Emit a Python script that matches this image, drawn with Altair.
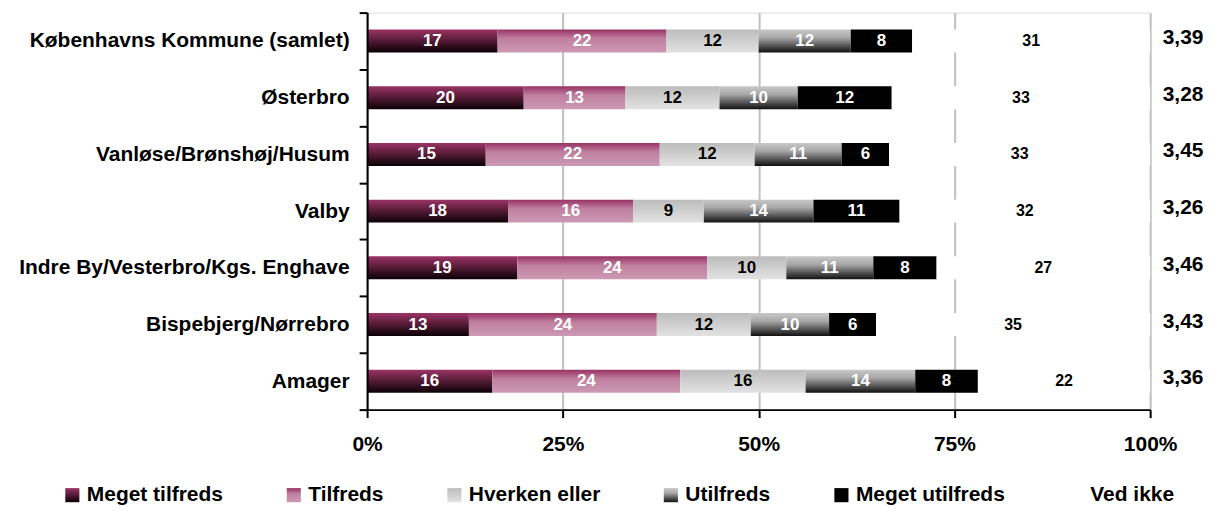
import altair as alt
import pandas as pd

categories = ["Københavns Kommune (samlet)", "Østerbro", "Vanløse/Brønshøj/Husum", "Valby",
              "Indre By/Vesterbro/Kgs. Enghave", "Bispebjerg/Nørrebro", "Amager"]
series = ["Meget tilfreds", "Tilfreds", "Hverken eller", "Utilfreds", "Meget utilfreds", "Ved ikke"]
meget_tilfreds = [17, 20, 15, 18, 19, 13, 16]
tilfreds = [22, 13, 22, 16, 24, 24, 24]
hverken_eller = [12, 12, 12, 9, 10, 12, 16]
utilfreds = [12, 10, 11, 14, 11, 10, 14]
meget_utilfreds = [8, 12, 6, 11, 8, 6, 8]
ved_ikke = [31, 33, 33, 32, 27, 35, 22]
gennemsnit = ["3,39", "3,28", "3,45", "3,26", "3,46", "3,43", "3,36"]
x_ticks = [0, 0.25, 0.5, 0.75, 1]

values_by_series = [meget_tilfreds, tilfreds, hverken_eller, utilfreds, meget_utilfreds, ved_ikke]
rows = []
for si, (s, vals) in enumerate(zip(series, values_by_series)):
    for c, v in zip(categories, vals):
        rows.append({"cat": c, "series": s, "order": si, "value": v})
df = pd.DataFrame(rows)
df_avg = pd.DataFrame({"cat": categories, "avg": gennemsnit})


def grad(stops):
    st = ",".join("{offset:%s,color:'%s'}" % (o, c) for o, c in stops)
    return {"expr": "{gradient:'linear',x1:0,y1:0,x2:0,y2:1,stops:[" + st + "]}"}


color_range = [
    grad([(0, "#9b3465"), (1, "#0a0005")]),
    grad([(0, "#973264"), (0.4, "#c080a0"), (1, "#cc99b3")]),
    grad([(0, "#bcbcbc"), (1, "#e2e2e2")]),
    grad([(0, "#c8c8c8"), (0.35, "#a8a8a8"), (1, "#111111")]),
    "#000000",
    "#ffffff",
]

FONT = "Liberation Sans"

xscale = alt.Scale(domain=[0, 1], nice=False, zero=True)
xaxis = alt.Axis(title=None, values=x_ticks, format=".0%", grid=True, gridColor="#c0c0c0",
                 gridWidth=2, tickSize=8, tickWidth=2, tickColor="black", domainColor="black",
                 domainWidth=2, labelFontSize=21, labelFontWeight="bold", labelColor="black",
                 labelPadding=16, labelFont=FONT, labelFlush=False)
yenc = alt.Y("cat:N", sort=categories, scale=alt.Scale(paddingInner=0, paddingOuter=0),
             axis=alt.Axis(title=None, tickBand="extent", tickSize=8, tickWidth=2, tickColor="black",
                           domainColor="black", domainWidth=2, labelFontSize=21, labelFontWeight="bold",
                           labelColor="black", labelPadding=10, labelLimit=400, grid=False,
                           labelFont=FONT, zindex=1))

base = (alt.Chart(df)
        .transform_joinaggregate(total="sum(value)", groupby=["cat"])
        .transform_calculate(share="datum.value / datum.total")
        .transform_stack(stack="share", groupby=["cat"], sort=[alt.SortField("order")], as_=["x0", "x1"])
        .transform_calculate(mid="(datum.x0 + datum.x1) / 2"))

bars = base.mark_bar(size=23).encode(
    y=yenc,
    x=alt.X("x0:Q", scale=xscale, axis=xaxis),
    x2="x1:Q",
    color=alt.Color("series:N", sort=series,
                    scale=alt.Scale(domain=series, range=color_range),
                    legend=alt.Legend(title=None, orient="none", legendX=-306, legendY=473,
                                      direction="horizontal", symbolType="square", symbolSize=200,
                                      symbolStrokeWidth=0, labelFontSize=21, labelFontWeight="bold",
                                      labelFont=FONT, labelColor="black", labelLimit=400,
                                      labelOffset=4, columnPadding=60)),
)

dark_test = "datum.series === 'Hverken eller' || datum.series === 'Ved ikke'"
labels = base.mark_text(fontWeight="bold", font=FONT, baseline="middle", align="center").encode(
    y=alt.Y("cat:N", sort=categories),
    x=alt.X("mid:Q"),
    text=alt.Text("value:Q"),
    color=alt.condition(dark_test, alt.value("black"), alt.value("white")),
    size=alt.condition("datum.series === 'Ved ikke'", alt.value(16), alt.value(17)),
)

avg = alt.Chart(df_avg).mark_text(fontWeight="bold", font=FONT, fontSize=21, dx=33, dy=-3,
                                  align="center", baseline="middle", color="black").encode(
    y=alt.Y("cat:N", sort=categories),
    x=alt.datum(1),
    text="avg:N",
)

chart = (alt.layer(bars, labels, avg)
         .properties(width=785, height=398,
                     autosize=alt.AutoSizeParams(type="none"),
                     padding={"left": 360, "top": 4, "right": 60, "bottom": 100})
         .configure_view(stroke=None)
         .configure(font=FONT))

chart.save("out.html", embed_options={"renderer": "svg", "actions": False})
